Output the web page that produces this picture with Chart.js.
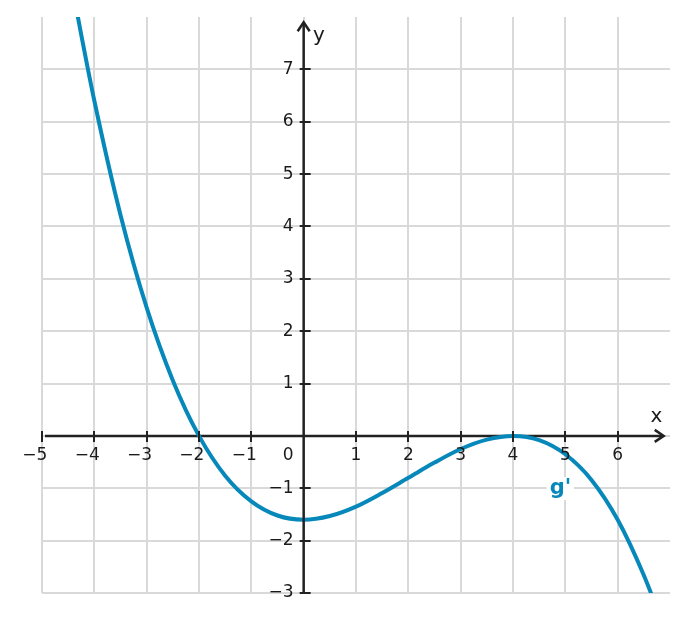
<!DOCTYPE html>
<html><head><meta charset="utf-8">
<script src="https://cdn.jsdelivr.net/npm/chart.js@4/dist/chart.umd.min.js"></script>
<style>html,body{margin:0;padding:0;background:#fff}#wrap{width:688px;height:622px}</style>
</head><body><div id="wrap"><canvas id="c" width="688" height="622"></canvas></div>
<script>
// ---- data ----
const xValues = [-4.5, -4.35, -4.25, -4, -3.5, -3, -2.5, -2, -1.5, -1, -0.5, 0, 0.5, 1, 1.5, 2, 2.5, 3, 3.5, 4, 4.5, 5, 5.5, 6, 6.5, 6.75, 7];
const gPrimeValues = [9.03, 8.19, 7.66, 6.4, 4.22, 2.45, 1.06, 0, -0.76, -1.25, -1.52, -1.6, -1.53, -1.35, -1.09, -0.8, -0.51, -0.25, -0.07, 0, -0.08, -0.35, -0.84, -1.6, -2.66, -3.31, -4.05];
const xTickValues = [-5, -4, -3, -2, -1, 0, 1, 2, 3, 4, 5, 6];
const yTickValues = [-3, -2, -1, 0, 1, 2, 3, 4, 5, 6, 7];
const seriesLabel = "g'";
const xAxisTitle = "x";
const yAxisTitle = "y";

const BLUE = '#0788ba';
const AXIS = '#222222';
const GRID = '#d9d9d9';
const FONT = "'DejaVu Sans', sans-serif";

const points = xValues.map((x, i) => ({x: x, y: gPrimeValues[i]}));
const fmt = v => (v < 0 ? '\u2212' : '') + Math.abs(v);

function chevron(ctx, tx, ty, dir) {
  const L = 9, W = 6;
  ctx.beginPath();
  if (dir === 'right') {
    ctx.moveTo(tx - L, ty - W); ctx.lineTo(tx, ty); ctx.lineTo(tx - L, ty + W);
  } else {
    ctx.moveTo(tx - W, ty + L); ctx.lineTo(tx, ty); ctx.lineTo(tx + W, ty + L);
  }
  ctx.stroke();
}

const axesPlugin = {
  id: 'axes',
  beforeDatasetsDraw(chart) {
    const {ctx, scales: {x, y}} = chart;
    const y0 = y.getPixelForValue(0);
    ctx.save();
    ctx.strokeStyle = AXIS; ctx.lineWidth = 2.5; ctx.lineCap = 'butt';
    ctx.beginPath();
    ctx.moveTo(x.getPixelForValue(-5) + 3, y0);
    ctx.lineTo(x.getPixelForValue(6.88) - 1, y0);
    ctx.stroke();
    ctx.lineJoin = 'miter';
    chevron(ctx, x.getPixelForValue(6.88), y0, 'right');
    ctx.restore();
  },
  afterDatasetsDraw(chart) {
    const {ctx, scales: {x, y}} = chart;
    const x0 = x.getPixelForValue(0), y0 = y.getPixelForValue(0);
    ctx.save();
    ctx.strokeStyle = AXIS; ctx.lineWidth = 2.5;
    // y axis
    ctx.beginPath();
    ctx.moveTo(x0, y.getPixelForValue(-3));
    ctx.lineTo(x0, y.getPixelForValue(7.9) + 1);
    ctx.stroke();
    chevron(ctx, x0, y.getPixelForValue(7.9), 'up');
    // tick marks
    ctx.lineWidth = 2;
    xTickValues.forEach(v => {
      if (v === 0) return;
      const px = Math.round(x.getPixelForValue(v));
      ctx.beginPath(); ctx.moveTo(px, y0 - 5); ctx.lineTo(px, y0 + 6); ctx.stroke();
    });
    yTickValues.forEach(v => {
      if (v === 0) return;
      const py = Math.round(y.getPixelForValue(v));
      ctx.beginPath(); ctx.moveTo(x0 - 4, py); ctx.lineTo(x0 + 7, py); ctx.stroke();
    });
    // tick labels
    ctx.fillStyle = '#1a1a1a';
    ctx.font = '17px ' + FONT;
    ctx.textBaseline = 'middle';
    ctx.textAlign = 'right';
    xTickValues.forEach(v => {
      if (v === 0) return;
      const px = x.getPixelForValue(v);
      const dw = ctx.measureText(String(Math.abs(v))).width;
      ctx.fillText(fmt(v), px + dw / 2, y0 + 20);
    });
    yTickValues.forEach(v => {
      if (v === 0) return;
      ctx.fillText(fmt(v), x0 - 10, y.getPixelForValue(v));
    });
    ctx.fillText('0', x0 - 10, y0 + 20);
    // axis titles
    ctx.font = '20px ' + FONT;
    ctx.textAlign = 'center';
    ctx.fillText(xAxisTitle, x.getPixelForValue(6.74), y.getPixelForValue(0.37));
    ctx.fillText(yAxisTitle, x.getPixelForValue(0.29), y.getPixelForValue(7.65));
    // series label with white halo
    ctx.font = 'bold 21px ' + FONT;
    ctx.textAlign = 'left';
    ctx.textBaseline = 'alphabetic';
    const lx = x.getPixelForValue(4.7), ly = y.getPixelForValue(-1.11);
    const w = ctx.measureText(seriesLabel).width;
    ctx.fillStyle = '#ffffff';
    ctx.fillRect(lx - 3, ly - 17, w + 6, 23);
    ctx.fillStyle = BLUE;
    ctx.fillText(seriesLabel, lx, ly);
    ctx.restore();
  }
};

new Chart(document.getElementById('c'), {
  type: 'scatter',
  data: {
    datasets: [{
      label: seriesLabel,
      data: points,
      showLine: true,
      borderColor: BLUE,
      borderWidth: 4,
      pointRadius: 0,
      cubicInterpolationMode: 'monotone',
      clip: 0
    }]
  },
  options: {
    responsive: false,
    animation: false,
    layout: {padding: {left: 42, right: 18, top: 17, bottom: 29}},
    plugins: {legend: {display: false}, tooltip: {enabled: false}},
    scales: {
      x: {
        type: 'linear', min: -5, max: 7,
        ticks: {display: false, stepSize: 1},
        border: {display: false},
        grid: {drawTicks: false, lineWidth: 2, color: c => (c.tick && c.tick.value === 7) ? 'rgba(0,0,0,0)' : GRID}
      },
      y: {
        type: 'linear', min: -3, max: 8,
        ticks: {display: false, stepSize: 1},
        border: {display: false},
        grid: {drawTicks: false, lineWidth: 2, color: c => (c.tick && c.tick.value === 8) ? 'rgba(0,0,0,0)' : GRID}
      }
    }
  },
  plugins: [axesPlugin]
});
</script>
</body></html>
